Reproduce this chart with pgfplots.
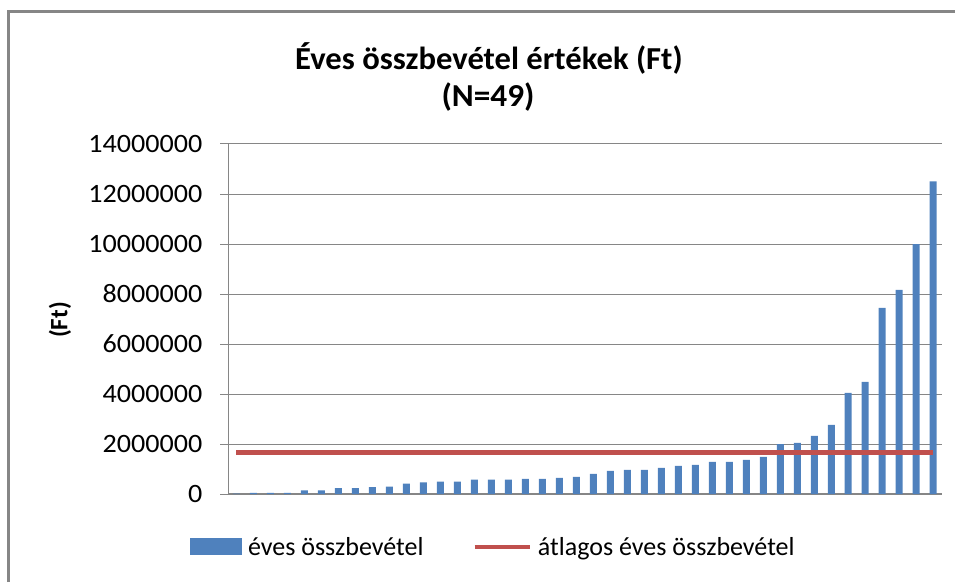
\documentclass[border=0pt]{standalone}
\usepackage{pgfplots}
\pgfplotsset{compat=1.18}
\usepackage{pgfplotstable}
\usepackage{fontspec}
\setmainfont{Carlito}
\definecolor{barblue}{HTML}{4F81BD}
\definecolor{avgred}{HTML}{C0504D}
\definecolor{axisgray}{HTML}{868686}
\pgfplotstableread{
x y
1 20000
2 50000
3 50000
4 50000
5 150000
6 150000
7 240000
8 240000
9 280000
10 300000
11 420000
12 470000
13 500000
14 500000
15 580000
16 580000
17 580000
18 610000
19 610000
20 650000
21 690000
22 810000
23 930000
24 970000
25 970000
26 1050000
27 1130000
28 1170000
29 1290000
30 1290000
31 1370000
32 1490000
33 2000000
34 2050000
35 2330000
36 2770000
37 4050000
38 4490000
39 7450000
40 8170000
41 10000000
42 12500000
}\revenue
\begin{document}
\begin{tikzpicture}[x=1pt,y=1pt]
\path[use as bounding box] (0,0) rectangle (955,582);
\draw[axisgray, line width=3pt] (8.5,0) -- (8.5,570) -- (955,570);
\node[font=\fontsize{32}{38}\selectfont\bfseries, xscale=1.02] at (489,524) {Éves összbevétel értékek (Ft)};
\node[font=\fontsize{32}{38}\selectfont\bfseries, xscale=1.04] at (488,485) {(N=49)};
\node[font=\fontsize{25}{30}\selectfont\bfseries, rotate=90] at (60,262) {(Ft)};
\begin{axis}[
  at={(228pt,88pt)}, anchor=south west,
  scale only axis, width=713.7pt, height=350pt,
  xmin=0.5, xmax=42.5, ymin=0, ymax=14000000,
  axis x line*=bottom, axis y line*=left,
  axis line style={-},
  x axis line style={draw=axisgray, line width=2.5pt},
  y axis line style={draw=axisgray, line width=1pt},
  xtick=\empty,
  ytick={0,2000000,4000000,6000000,8000000,10000000,12000000,14000000},
  scaled y ticks=false,
  yticklabel style={xshift=-14pt, xscale=1.06, /pgf/number format/.cd, fixed, precision=0, 1000 sep={}, assume math mode=true},
  ticklabel style={font=\fontsize{26.5}{31}\selectfont, text=black},
  tick align=outside, major tick length=8pt,
  tick style={draw=axisgray, line width=1pt},
  ymajorgrids, grid style={draw=axisgray, line width=1pt},
  legend columns=2,
  legend cell align=left,
  legend style={draw=none, fill=none, inner sep=0pt, outer sep=0pt,
    at={(axis description cs:-0.0532,-0.151)}, anchor=west,
    font=\fontsize{26}{31}\selectfont,
    nodes={inner sep=0pt},
    /tikz/every odd column/.append style={column sep=6pt},
    /tikz/every even column/.append style={column sep=49pt}},
]
\addplot[ybar, bar width=7pt, fill=barblue, draw=none,
  legend image code/.code={\fill[barblue] (0pt,-8.5pt) rectangle (52pt,8.5pt);}]
  table[x=x, y=y] {\revenue};
\addlegendentry{éves összbevétel}
\addplot[avgred, line width=4.5pt, no marks,
  legend image code/.code={\draw[avgred, line width=4.5pt] (0pt,0pt) -- (55pt,0pt);}]
  coordinates {(1,1670000) (42,1670000)};
\addlegendentry{átlagos éves összbevétel}
\end{axis}
\end{tikzpicture}
\end{document}
